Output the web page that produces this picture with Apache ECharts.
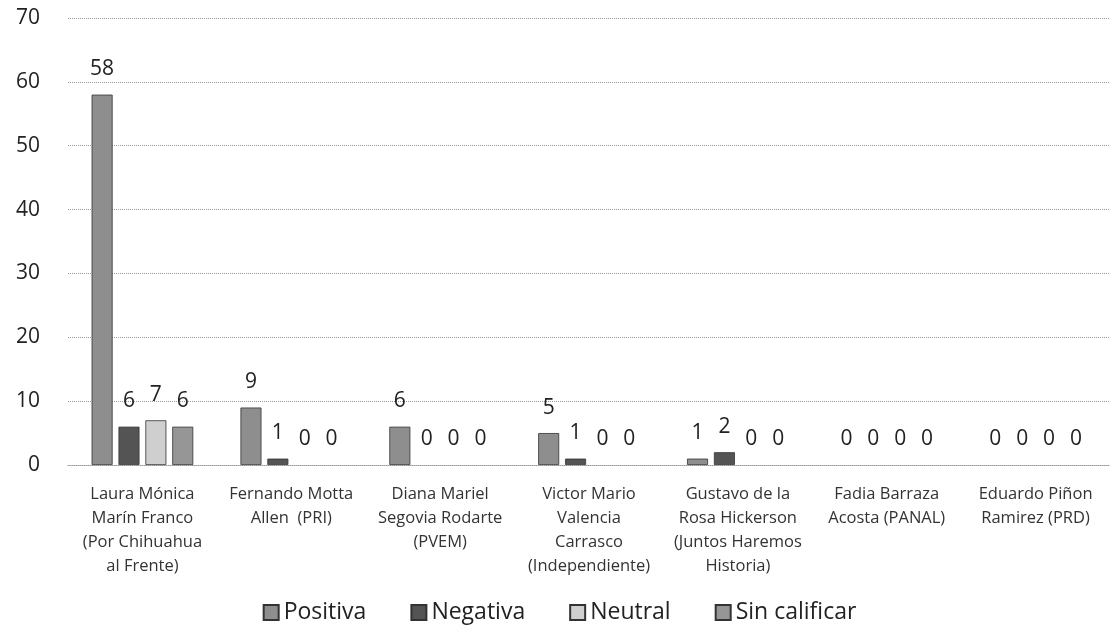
<!DOCTYPE html>
<html><head><meta charset="utf-8">
<script src="https://cdn.jsdelivr.net/npm/echarts@6/dist/echarts.min.js"></script>
<style>html,body{margin:0;padding:0;background:#fff}#c{width:1119px;height:641px}</style>
</head><body><div id="c"></div>
<script>
const categories = [
  "Laura Mónica\nMarín Franco\n(Por Chihuahua\nal Frente)",
  "Fernando Motta\nAllen  (PRI)",
  "Diana Mariel\nSegovia Rodarte\n(PVEM)",
  "Victor Mario\nValencia\nCarrasco\n(Independiente)",
  "Gustavo de la\nRosa Hickerson\n(Juntos Haremos\nHistoria)",
  "Fadia Barraza\nAcosta (PANAL)",
  "Eduardo Piñon\nRamirez (PRD)"
];
const seriesNames = ["Positiva", "Negativa", "Neutral", "Sin calificar"];
const positiva = [58, 9, 6, 5, 1, 0, 0];
const negativa = [6, 1, 0, 1, 2, 0, 0];
const neutral = [7, 0, 0, 0, 0, 0, 0];
const sinCalificar = [6, 0, 0, 0, 0, 0, 0];
const yTicks = [0, 10, 20, 30, 40, 50, 60, 70];

const values = [positiva, negativa, neutral, sinCalificar];
const colors = ["#8e8e8e", "#545454", "#cfcfcf", "#969696"];
const font = "'Open Sans', 'Noto Sans', sans-serif";

const chart = echarts.init(document.getElementById('c'));
chart.setOption({
  animation: false,
  grid: { left: 68, right: 9, top: 18, bottom: 176 },
  legend: {
    bottom: 12, left: 'center', itemWidth: 15, itemHeight: 15, itemGap: 44,
    icon: 'rect',
    textStyle: { fontSize: 23, color: '#222', fontFamily: font },
    data: seriesNames
  },
  xAxis: {
    type: 'category', data: categories,
    axisLine: { show: true, lineStyle: { color: '#999', type: 'dotted' } },
    axisTick: { show: false },
    axisLabel: { fontSize: 16.5, color: '#333', lineHeight: 24, margin: 17, fontFamily: font, interval: 0 }
  },
  yAxis: {
    type: 'value', min: 0, max: 70, interval: 10,
    axisLine: { show: false }, axisTick: { show: false },
    axisLabel: { fontSize: 21, color: '#222', margin: 28, fontFamily: font,
      formatter: v => yTicks.includes(v) ? String(v) : '' },
    splitLine: { lineStyle: { color: '#999', type: 'dotted' } }
  },
  series: seriesNames.map((n, i) => ({
    name: n, type: 'bar',
    data: values[i].map(v => v === 0 ? { value: v, itemStyle: { borderWidth: 0 } } : v),
    barWidth: 21, barGap: '28%',
    itemStyle: { color: colors[i], borderColor: '#333', borderWidth: 0.8 },
    label: { show: true, position: 'top', distance: 15, fontSize: 21, color: '#222', fontFamily: font }
  }))
});
</script></body></html>
